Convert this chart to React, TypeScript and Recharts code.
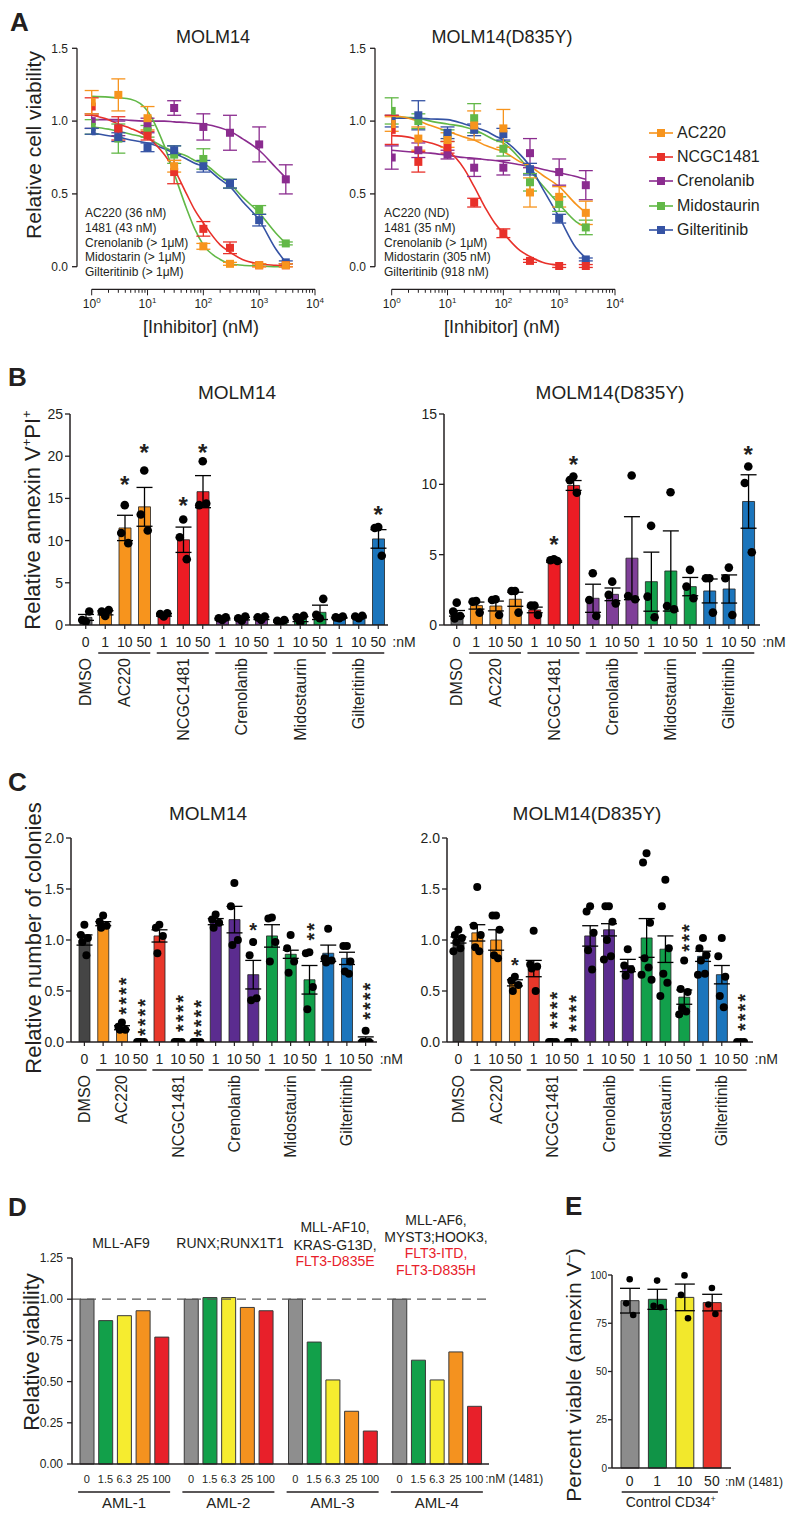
import React from "react";
import { ComposedChart, Line, Scatter, Bar, Cell, XAxis, YAxis, ErrorBar, ReferenceLine } from "recharts";

const ink = "#231f20";
const FONT = '"Liberation Sans", Arial, Helvetica, sans-serif';

// ---------- A: viability vs inhibitor ----------
const doseNM = [1, 3, 10, 30, 100, 300, 1000, 3000];
const fitNM = [1, 2, 3, 5, 10, 20, 30, 50, 70, 100, 200, 300, 500, 1000, 2000, 3000];

// MOLM14 mean / sem
const wtAC220 = [1.13, 1.18, 1.02, 0.69, 0.14, 0.02, 0.01, 0.01];
const wtAC220Sem = [0.08, 0.11, 0.08, 0.04, 0.02, 0.01, 0.01, 0.01];
const wt1481 = [1.1, 0.95, 0.9, 0.65, 0.26, 0.13, 0.01, 0.01];
const wt1481Sem = [0.06, 0.08, 0.03, 0.08, 0.05, 0.04, 0.01, 0.01];
const wtCreno = [1.0, 0.95, 0.97, 1.09, 0.96, 0.92, 0.84, 0.6];
const wtCrenoSem = [0.05, 0.05, 0.05, 0.05, 0.09, 0.12, 0.12, 0.1];
const wtMido = [0.96, 0.88, 0.93, 0.77, 0.74, 0.57, 0.39, 0.16];
const wtMidoSem = [0.05, 0.1, 0.04, 0.06, 0.07, 0.03, 0.03, 0.01];
const wtGilt = [0.93, 0.89, 0.82, 0.8, 0.69, 0.57, 0.32, 0.03];
const wtGiltSem = [0.02, 0.03, 0.03, 0.03, 0.04, 0.03, 0.04, 0.01];

// MOLM14 fitted curves (read at fitNM)
const wtFitAC220 = [1.17, 1.165, 1.16, 1.15, 1.07, 0.83, 0.64, 0.4, 0.26, 0.15, 0.05, 0.02, 0.01, 0.005, 0, 0];
const wtFit1481 = [1.04, 1.01, 0.98, 0.95, 0.89, 0.77, 0.67, 0.5, 0.39, 0.3, 0.15, 0.1, 0.05, 0.02, 0.01, 0.005];
const wtFitCreno = [1.01, 1.01, 1.01, 1.005, 1.0, 1.0, 0.995, 0.99, 0.985, 0.98, 0.955, 0.93, 0.88, 0.8, 0.68, 0.61];
const wtFitMido = [0.96, 0.945, 0.93, 0.91, 0.88, 0.82, 0.79, 0.76, 0.73, 0.71, 0.62, 0.57, 0.48, 0.37, 0.23, 0.16];
const wtFitGilt = [0.92, 0.9, 0.89, 0.87, 0.85, 0.81, 0.78, 0.74, 0.71, 0.69, 0.6, 0.55, 0.45, 0.32, 0.12, 0.03];

// MOLM14(D835Y) mean / sem
const mutAC220 = [0.98, 0.88, 0.87, 0.97, 0.95, 0.51, 0.48, 0.37];
const mutAC220Sem = [0.05, 0.08, 0.05, 0.1, 0.13, 0.1, 0.07, 0.08];
const mut1481 = [0.94, 0.72, 0.82, 0.44, 0.23, 0.04, 0.005, 0.005];
const mut1481Sem = [0.1, 0.07, 0.04, 0.03, 0.03, 0.01, 0.01, 0.01];
const mutCreno = [0.75, 0.8, 0.77, 0.68, 0.68, 0.78, 0.65, 0.56];
const mutCrenoSem = [0.08, 0.05, 0.03, 0.06, 0.05, 0.1, 0.09, 0.1];
const mutMido = [1.07, 1.0, 0.9, 1.02, 0.81, 0.58, 0.43, 0.27];
const mutMidoSem = [0.09, 0.05, 0.04, 0.1, 0.05, 0.06, 0.05, 0.05];
const mutGilt = [1.0, 1.04, 0.92, 0.94, 0.91, 0.67, 0.33, 0.05];
const mutGiltSem = [0.04, 0.1, 0.04, 0.04, 0.04, 0.04, 0.03, 0.01];

const mutFitAC220 = [1.04, 1.02, 1.0, 0.97, 0.93, 0.89, 0.87, 0.83, 0.81, 0.79, 0.72, 0.69, 0.63, 0.55, 0.43, 0.37];
const mutFit1481 = [0.9, 0.89, 0.87, 0.85, 0.8, 0.67, 0.55, 0.39, 0.3, 0.23, 0.11, 0.07, 0.03, 0.01];
const mutFitCreno = [0.8, 0.79, 0.785, 0.78, 0.765, 0.75, 0.745, 0.735, 0.73, 0.72, 0.7, 0.69, 0.67, 0.645, 0.62, 0.6];
const mutFitMido = [1.03, 1.025, 1.02, 1.0, 0.98, 0.96, 0.94, 0.9, 0.87, 0.85, 0.74, 0.66, 0.56, 0.43, 0.31, 0.27];
const mutFitGilt = [1.02, 1.02, 1.02, 1.015, 1.01, 0.98, 0.96, 0.93, 0.9, 0.87, 0.77, 0.69, 0.54, 0.34, 0.13, 0.06];

const legendNames = ["AC220", "NCGC1481", "Crenolanib", "Midostaurin", "Gilteritinib"];
const wtIC50 = ["AC220 (36 nM)", "1481 (43 nM)", "Crenolanib (> 1\u03bcM)", "Midostarin (> 1\u03bcM)", "Gilteritinib (> 1\u03bcM)"];
const mutIC50 = ["AC220 (ND)", "1481 (35 nM)", "Crenolanib (> 1\u03bcM)", "Midostarin (305 nM)", "Gilteritinib (918 nM)"];
const viabTicks = [0, 0.5, 1, 1.5];

// ---------- B / C: treatments ----------
const groups = ["DMSO", "AC220", "NCGC1481", "Crenolanib", "Midostaurin", "Gilteritinib"];
const treatDoses = ["1", "10", "50"];
const treatCats = ["DMSO|0", ...groups.slice(1).flatMap((g) => treatDoses.map((d) => `${g}|${d}`))];

const annWtMean = [0.9, 1.45, 11.5, 14.0, 1.2, 10.1, 15.8, 0.7, 0.75, 0.8, 0.45, 0.7, 1.5, 0.85, 0.95, 10.2];
const annWtSem = [0.35, 0.25, 1.5, 2.3, 0.15, 1.5, 1.9, 0.1, 0.15, 0.15, 0.1, 0.3, 0.85, 0.05, 0.1, 1.1];
const annWtDots = [[0.4, 0.6, 1.6], [1.07, 1.58, 1.78], [14.2, 10.9, 9.7], [18.3, 13.1, 11.2], [1.0, 1.3, 1.4], [12.5, 10.4, 7.8], [19.4, 14.2, 14.4], [0.6, 0.8, 0.9], [0.5, 0.8, 1.0], [0.6, 0.9, 1.0], [0.3, 0.5, 0.6], [0.3, 0.9, 1.1], [0.8, 1.2, 3.1], [0.8, 0.9, 1.0], [0.8, 1.0, 1.1], [11.6, 11.5, 8.2]];
const annWtStars = [
  { c: "AC220|10", v: 17.3, s: "*" },
  { c: "AC220|50", v: 21.1, s: "*" },
  { c: "NCGC1481|10", v: 14.8, s: "*" },
  { c: "NCGC1481|50", v: 21.1, s: "*" },
  { c: "Gilteritinib|50", v: 13.7, s: "*" },
];

const annMutMean = [0.83, 1.38, 1.35, 1.83, 1.07, 4.5, 9.92, 1.9, 2.18, 4.75, 3.08, 3.84, 2.73, 2.42, 2.56, 8.78];
const annMutSem = [0.2, 0.25, 0.35, 0.5, 0.2, 0.05, 0.35, 1.0, 0.45, 2.95, 2.1, 2.85, 0.65, 0.85, 1.0, 1.9];
const annMutDots = [[1.59, 0.95, 0.64, 0.47], [1.71, 1.66, 0.88], [1.83, 1.78, 0.71], [2.42, 2.42, 0.88], [1.38, 1.38, 0.71], [4.67, 4.6, 4.55], [10.56, 10.3, 9.4], [3.68, 1.78, 0.64], [3.08, 2.14, 1.54], [10.63, 2.06, 1.83], [7.05, 2.02, 0.55], [9.44, 1.35, 1.12], [3.92, 2.73, 1.9], [3.32, 3.32, 0.88], [4.08, 3.32, 0.71], [11.27, 10.09, 5.17]];
const annMutStars = [
  { c: "NCGC1481|10", v: 6.1, s: "*" },
  { c: "NCGC1481|50", v: 11.8, s: "*" },
  { c: "Gilteritinib|50", v: 12.5, s: "*" },
];

const colWtMean = [1.0, 1.16, 0.14, 0, 1.04, 0, 0, 1.18, 1.2, 0.66, 1.04, 0.86, 0.61, 0.87, 0.82, 0.03];
const colWtSem = [0.05, 0.02, 0.02, 0, 0.06, 0, 0, 0.03, 0.13, 0.14, 0.11, 0.04, 0.14, 0.08, 0.06, 0.02];
const colWtDots = [[1.15, 1.05, 1.02, 0.98, 0.85], [1.24, 1.18, 1.14, 1.12], [0.19, 0.15, 0.12, 0.12], [0, 0, 0, 0], [1.15, 1.12, 1.04, 0.87], [0, 0, 0, 0], [0, 0, 0, 0], [1.25, 1.2, 1.17, 1.12], [1.56, 1.33, 1.0, 0.95], [0.98, 0.85, 0.43, 0.41], [1.22, 1.21, 0.98, 0.79], [1.05, 0.92, 0.79, 0.68], [0.88, 0.87, 0.54, 0.32], [1.11, 0.82, 0.8, 0.78], [0.94, 0.94, 0.79, 0.69, 0.67], [0.11, 0, 0, 0]];
const colWtStars = [
  { c: "AC220|10", v: 0.46, s: "****" },
  { c: "AC220|50", v: 0.25, s: "****" },
  { c: "NCGC1481|10", v: 0.29, s: "****" },
  { c: "NCGC1481|50", v: 0.24, s: "****" },
  { c: "Crenolanib|50", v: 1.14, s: "*" },
  { c: "Midostaurin|50", v: 1.09, s: "**" },
  { c: "Gilteritinib|50", v: 0.41, s: "****" },
];

const colMutMean = [1.0, 1.07, 1.0, 0.58, 0.72, 0, 0, 1.04, 1.1, 0.75, 1.02, 0.91, 0.44, 0.84, 0.66, 0];
const colMutSem = [0.03, 0.08, 0.1, 0.03, 0.08, 0, 0, 0.1, 0.06, 0.06, 0.19, 0.13, 0.07, 0.05, 0.09, 0];
const colMutDots = [[1.1, 1.05, 1.02, 0.98, 0.92, 0.89], [1.52, 1.14, 1.05, 0.93, 0.89], [1.24, 1.24, 1.1, 0.85, 0.82], [0.64, 0.6, 0.56, 0.5], [1.09, 0.76, 0.74, 0.72, 0.5], [0, 0, 0, 0], [0, 0, 0, 0], [1.33, 1.28, 1.07, 0.9, 0.71], [1.33, 1.33, 1.18, 1.0, 0.84, 0.81], [0.91, 0.75, 0.71, 0.65], [1.85, 1.76, 1.17, 0.82, 0.73, 0.66, 0.61], [1.59, 1.33, 0.92, 0.67, 0.58, 0.45], [0.8, 0.52, 0.49, 0.33, 0.3, 0.27], [1.02, 0.92, 0.85, 0.8, 0.67, 0.66], [1.02, 0.84, 0.64, 0.45, 0.34], [0, 0, 0]];
const colMutStars = [
  { c: "AC220|50", v: 0.8, s: "*" },
  { c: "NCGC1481|10", v: 0.32, s: "****" },
  { c: "NCGC1481|50", v: 0.29, s: "****" },
  { c: "Midostaurin|50", v: 1.03, s: "***" },
  { c: "Gilteritinib|50", v: 0.3, s: "****" },
];

// ---------- D: primary AML ----------
const amlGroups = ["AML-1", "AML-2", "AML-3", "AML-4"];
const amlDoses = ["0", "1.5", "6.3", "25", "100"];
const aml0 = [1.0, 1.0, 1.0, 1.0];
const aml1p5 = [0.87, 1.01, 0.74, 0.63];
const aml6p3 = [0.9, 1.01, 0.51, 0.51];
const aml25 = [0.93, 0.95, 0.32, 0.68];
const aml100 = [0.77, 0.93, 0.2, 0.35];

// ---------- E: CD34+ ----------
const cd34Doses = ["0", "1", "10", "50"];
const cd34Mean = [86.7, 87.4, 88.4, 85.7];
const cd34Sem = [6.4, 5.2, 6.9, 4.3];
const cd34Dots = [[97.8, 85.3, 79.3], [97.1, 84.0, 83.3], [99.8, 89.7, 77.6], [93.3, 84.7, 79.8]];

// ---------- styling ----------
const aColors = ["#f7941d", "#e8312a", "#8b2c8f", "#62b847", "#3553a4"];
const annPalette = ["#6d6e71", "#f7941d", "#ec1c24", "#7f3f98", "#12a04b", "#1b75bc"];
const colPalette = ["#454545", "#f7941d", "#e8372a", "#5b2c8f", "#12a04b", "#1b75bc"];
const amlColors = ["#8e8e8e", "#12a04a", "#f6ec2f", "#f4921f", "#e8202a"];
const cd34Colors = ["#8c8c8c", "#109447", "#f2e82c", "#e9322a"];
const jitter = [0, -3.5, 3.5, -2, 2, -5, 5];

const pts = (v: number[], e: number[]) => doseNM.map((x, i) => ({ x, v: v[i], e: e[i] }));
const fit = (v: number[]) => v.map((y, i) => ({ x: fitNM[i], v: y }));

const logTicks = [1, 10, 100, 1000].flatMap((d) => [1, 2, 3, 4, 5, 6, 7, 8, 9].map((m) => d * m)).concat([10000]);

function Txt({ x, y, size = 14, anchor = "middle", weight = 400, color = ink, rotate = false, children }: any) {
  const tx = anchor === "middle" ? "-50%" : anchor === "end" ? "-100%" : "0";
  return (
    <div
      style={{
        position: "absolute",
        left: x,
        top: y,
        fontSize: size,
        fontWeight: weight,
        color,
        lineHeight: 1,
        whiteSpace: "nowrap",
        transform: rotate ? "translate(-50%,-50%) rotate(-90deg)" : `translate(${tx},-50%)`,
      }}
    >
      {children}
    </div>
  );
}

const LogTick = (p: any) => {
  const { x, y, payload } = p;
  const e = Math.log10(payload.value);
  const major = Math.abs(e - Math.round(e)) < 1e-6;
  return (
    <g>
      <line x1={x} x2={x} y1={y} y2={y + (major ? 6 : 3.5)} stroke={ink} strokeWidth={1} />
      {major && (
        <text x={x} y={y + 19} textAnchor="middle" fontSize={12} fill={ink}>
          10<tspan dy={-5} fontSize={8}>{Math.round(e)}</tspan>
        </text>
      )}
    </g>
  );
};

const square = (color: string) => (p: any) => (
  <rect x={p.cx - 4} y={p.cy - 4} width={8} height={8} fill={color} />
);

function DoseChart({ left, yWidth, series, fits }: any) {
  const W = 330;
  const H = 340;
  // y axis drawn on its own (0..1.5), apart from the offset x axis
  const axisData = viabTicks.map((v, i) => ({ x: i, y: v }));
  return (
    <>
      <div style={{ position: "absolute", left, top: 0 }}>
        <ComposedChart width={W} height={H} data={axisData} margin={{ top: 48.3, right: W - yWidth - 2, left: 0, bottom: H - 266.7 }}>
          <XAxis dataKey="x" hide />
          <YAxis
            type="number"
            domain={[0, 1.5]}
            ticks={viabTicks}
            tickFormatter={(v: number) => v.toFixed(1)}
            width={yWidth}
            axisLine={{ stroke: ink, strokeWidth: 1.3 }}
            tickLine={{ stroke: ink, strokeWidth: 1.3 }}
            tickSize={5}
            tickMargin={4}
            tick={{ fontSize: 12, fill: ink }}
          />
          <Line dataKey="y" stroke="none" dot={false} isAnimationActive={false} />
        </ComposedChart>
      </div>
      <div style={{ position: "absolute", left, top: 0 }}>
        <ComposedChart width={W} height={H} margin={{ top: 48.3, right: 15, left: 91.7, bottom: 0 }}>
          <XAxis
            dataKey="x"
            type="number"
            scale="log"
            domain={[1, 10000]}
            ticks={logTicks}
            interval={0}
            allowDataOverflow
            height={H - 289.3}
            tickSize={0}
            tickMargin={0}
            tick={<LogTick />}
            axisLine={{ stroke: ink, strokeWidth: 1.3 }}
          />
          <YAxis hide type="number" domain={[-0.155, 1.5]} allowDataOverflow />
          {fits.map((f: any, i: number) => (
            <Line key={`f${i}`} data={f.data} dataKey="v" type="monotone" stroke={f.color} strokeWidth={1.6} dot={false} isAnimationActive={false} />
          ))}
          {series.map((s: any, i: number) => (
            <Scatter key={`s${i}`} data={s.data} dataKey="v" fill={s.color} shape={square(s.color)} isAnimationActive={false}>
              <ErrorBar dataKey="e" direction="y" width={7} stroke={s.color} strokeWidth={1.3} />
            </Scatter>
          ))}
        </ComposedChart>
      </div>
    </>
  );
}

const dotShape = (r: number) => (p: any) => (
  <circle cx={p.cx + jitter[p.payload.k % jitter.length]} cy={p.cy} r={r} fill="#000" />
);

const starShape = (fs: number, ls: number) => (p: any) => {
  const { cx, cy, payload } = p;
  const s = payload.s;
  if (s.length === 1) {
    return (
      <text x={cx} y={cy} dy={fs * 0.57} textAnchor="middle" fontSize={fs} fontWeight={700} fill={ink}>
        *
      </text>
    );
  }
  return (
    <text x={cx} y={cy} dy={fs * 0.57} textAnchor="middle" fontSize={fs} fontWeight={700} letterSpacing={ls} fill={ink} transform={`rotate(-90 ${cx} ${cy})`}>
      {s}
    </text>
  );
};

const TreatTick = (p: any) => {
  const { x, y, payload, band } = p;
  const [grp, dose] = String(payload.value).split("|");
  const isLast = payload.value === treatCats[treatCats.length - 1];
  const nameY = y + 33;
  return (
    <g fill={ink}>
      <line x1={x} y1={y} x2={x} y2={y + 4} stroke={ink} strokeWidth={1.2} />
      <text x={x} y={y + 22} textAnchor="middle" fontSize={14}>
        {dose}
      </text>
      {isLast && (
        <text x={x + 14} y={y + 22} fontSize={14}>
          :nM
        </text>
      )}
      {(grp === "DMSO" || dose === "10") && (
        <text x={x} y={nameY} dy="0.35em" textAnchor="end" fontSize={16} transform={`rotate(-90 ${x} ${nameY})`}>
          {grp}
        </text>
      )}
      {dose === "10" && <line x1={x - band - 7} x2={x + band + 6} y1={y + 28} y2={y + 28} stroke={ink} strokeWidth={1.5} />}
    </g>
  );
};

function TreatPanel(props: any) {
  const { left, top, width, height, yWidth, mTop, mRight, padL, padR, domain, ticks, fmt, means, sems, dots, stars, palette, barSize, dotR, starFs, starLs, plotBottom } = props;
  const band = (width - mRight - yWidth - padL - padR) / treatCats.length;
  const data = treatCats.map((c, i) => ({ c, m: means[i], e: sems[i] > 0 ? sems[i] : undefined }));
  const dotData = dots.flatMap((arr: number[], i: number) => arr.map((v, k) => ({ c: treatCats[i], v, k })));
  const groupIdx = (c: string) => groups.indexOf(c.split("|")[0]);
  return (
    <div style={{ position: "absolute", left, top }}>
      <ComposedChart width={width} height={height} data={data} margin={{ top: mTop, right: mRight, left: 0, bottom: 0 }}>
        <XAxis
          dataKey="c"
          type="category"
          allowDuplicatedCategory={false}
          height={height - plotBottom}
          padding={{ left: padL, right: padR }}
          interval={0}
          tickSize={0}
          tickMargin={0}
          tick={<TreatTick band={band} />}
          axisLine={{ stroke: ink, strokeWidth: 1.5 }}
        />
        <YAxis
          type="number"
          domain={domain}
          ticks={ticks}
          tickFormatter={fmt}
          width={yWidth}
          allowDataOverflow
          axisLine={{ stroke: ink, strokeWidth: 1.5 }}
          tickLine={{ stroke: ink, strokeWidth: 1.3 }}
          tickSize={5}
          tickMargin={2}
          tick={{ fontSize: 14, fill: ink }}
        />
        <Bar dataKey="m" barSize={barSize} stroke="#222" strokeWidth={0.8} isAnimationActive={false}>
          {data.map((d: any) => (
            <Cell key={d.c} fill={palette[groupIdx(d.c)]} />
          ))}
          <ErrorBar dataKey="e" width={8} stroke="#000" strokeWidth={1.3} />
        </Bar>
        <Scatter data={dotData} dataKey="v" shape={dotShape(dotR)} isAnimationActive={false} />
        <Scatter data={stars} dataKey="v" shape={starShape(starFs, starLs)} isAnimationActive={false} />
      </ComposedChart>
    </div>
  );
}

const amlPitch = 18.7;
const AmlTick = (p: any) => {
  const { x, y, payload } = p;
  const isLast = payload.value === amlGroups[amlGroups.length - 1];
  return (
    <g fill={ink}>
      {amlDoses.map((d, j) => (
        <text key={d} x={x + (j - 2) * amlPitch} y={y + 19} textAnchor="middle" fontSize={11}>
          {d}
        </text>
      ))}
      {isLast && (
        <text x={x + 2 * amlPitch + 11} y={y + 19} fontSize={12}>
          :nM (1481)
        </text>
      )}
      <line x1={x - 46} x2={x + 46} y1={y + 28} y2={y + 28} stroke={ink} strokeWidth={1.5} />
      <text x={x} y={y + 44} textAnchor="middle" fontSize={15}>
        {payload.value}
      </text>
    </g>
  );
};

function AmlPanel() {
  const data = amlGroups.map((g, i) => ({ g, d0: aml0[i], d1: aml1p5[i], d2: aml6p3[i], d3: aml25[i], d4: aml100[i] }));
  const keys = ["d0", "d1", "d2", "d3", "d4"];
  return (
    <div style={{ position: "absolute", left: 0, top: 1200 }}>
      <ComposedChart width={560} height={317} data={data} barGap={4.7} margin={{ top: 58, right: 71, left: 0, bottom: 0 }}>
        <XAxis dataKey="g" type="category" height={53} interval={0} tickSize={0} tickMargin={0} tick={<AmlTick />} axisLine={{ stroke: ink, strokeWidth: 1.5 }} />
        <YAxis
          type="number"
          domain={[0, 1.25]}
          ticks={[0, 0.25, 0.5, 0.75, 1, 1.25]}
          tickFormatter={(v: number) => v.toFixed(2)}
          width={72}
          axisLine={{ stroke: ink, strokeWidth: 1.5 }}
          tickLine={{ stroke: ink, strokeWidth: 1.3 }}
          tickSize={5}
          tickMargin={4}
          tick={{ fontSize: 12, fill: ink }}
        />
        <ReferenceLine y={1} stroke="#555" strokeWidth={1.3} strokeDasharray="9 6" />
        {keys.map((k, j) => (
          <Bar key={k} dataKey={k} barSize={14} fill={amlColors[j]} stroke="#3a3a3a" strokeWidth={1} isAnimationActive={false} />
        ))}
      </ComposedChart>
    </div>
  );
}

const CtrlTick = (p: any) => {
  const { x, y, payload, band } = p;
  const i = cd34Doses.indexOf(payload.value);
  return (
    <g fill={ink}>
      <text x={x} y={y + 18} textAnchor="middle" fontSize={14}>
        {payload.value}
      </text>
      {i === cd34Doses.length - 1 && (
        <text x={x + 13} y={y + 18} fontSize={12}>
          :nM (1481)
        </text>
      )}
      {i === 0 && (
        <>
          <line x1={x - 8} x2={x + 3 * band + 6} y1={y + 24} y2={y + 24} stroke={ink} strokeWidth={1.5} />
          <text x={x + 1.5 * band} y={y + 39} textAnchor="middle" fontSize={14}>
            Control CD34<tspan dy={-5} fontSize={9}>+</tspan>
          </text>
        </>
      )}
    </g>
  );
};

function Cd34Panel() {
  const data = cd34Doses.map((c, i) => ({ c, m: cd34Mean[i], e: cd34Sem[i] }));
  const dotData = cd34Dots.flatMap((arr, i) => arr.map((v, k) => ({ c: cd34Doses[i], v, k })));
  const band = (233 - 62 - 52 - 4 - 5.4) / cd34Doses.length;
  return (
    <div style={{ position: "absolute", left: 560, top: 1230 }}>
      <ComposedChart width={233} height={287} data={data} margin={{ top: 45, right: 62, left: 0, bottom: 0 }}>
        <XAxis
          dataKey="c"
          type="category"
          allowDuplicatedCategory={false}
          height={49}
          padding={{ left: 4, right: 5.4 }}
          interval={0}
          tickSize={0}
          tickMargin={0}
          tick={<CtrlTick band={band} />}
          axisLine={{ stroke: ink, strokeWidth: 1.5 }}
        />
        <YAxis
          type="number"
          domain={[0, 100]}
          ticks={[0, 25, 50, 75, 100]}
          width={52}
          axisLine={{ stroke: ink, strokeWidth: 1.5 }}
          tickLine={{ stroke: ink, strokeWidth: 1.3 }}
          tickSize={4}
          tickMargin={1}
          tick={{ fontSize: 10, fill: ink }}
        />
        <Bar dataKey="m" barSize={18} stroke="#333" strokeWidth={1} isAnimationActive={false}>
          {data.map((d, i) => (
            <Cell key={d.c} fill={cd34Colors[i]} />
          ))}
          <ErrorBar dataKey="e" width={10} stroke="#000" strokeWidth={1.3} />
        </Bar>
        <Scatter data={dotData} dataKey="v" shape={dotShape(3.3)} isAnimationActive={false} />
      </ComposedChart>
    </div>
  );
}

export default function App() {
  const wtSeries = [
    { data: pts(wtCreno, wtCrenoSem), color: aColors[2] },
    { data: pts(wtMido, wtMidoSem), color: aColors[3] },
    { data: pts(wtGilt, wtGiltSem), color: aColors[4] },
    { data: pts(wt1481, wt1481Sem), color: aColors[1] },
    { data: pts(wtAC220, wtAC220Sem), color: aColors[0] },
  ];
  const wtFits = [
    { data: fit(wtFitCreno), color: aColors[2] },
    { data: fit(wtFitMido), color: aColors[3] },
    { data: fit(wtFitGilt), color: aColors[4] },
    { data: fit(wtFit1481), color: aColors[1] },
    { data: fit(wtFitAC220), color: aColors[3] },
  ];
  const mutSeries = [
    { data: pts(mutCreno, mutCrenoSem), color: aColors[2] },
    { data: pts(mutMido, mutMidoSem), color: aColors[3] },
    { data: pts(mutGilt, mutGiltSem), color: aColors[4] },
    { data: pts(mut1481, mut1481Sem), color: aColors[1] },
    { data: pts(mutAC220, mutAC220Sem), color: aColors[0] },
  ];
  const mutFits = [
    { data: fit(mutFitCreno), color: aColors[2] },
    { data: fit(mutFitMido), color: aColors[3] },
    { data: fit(mutFitGilt), color: aColors[4] },
    { data: fit(mutFit1481), color: aColors[1] },
    { data: fit(mutFitAC220), color: aColors[0] },
  ];

  const annCommon = { top: 380, height: 380, mTop: 34, plotBottom: 625 - 380, barSize: 12, dotR: 4.3, starFs: 24, starLs: 0, palette: annPalette };
  const colCommon = { top: 800, height: 380, mTop: 38, plotBottom: 1042 - 800, barSize: 11, dotR: 4, starFs: 20, starLs: 2, palette: colPalette, domain: [0, 2], ticks: [0, 0.5, 1, 1.5, 2], fmt: (v: number) => v.toFixed(1) };

  return (
    <div style={{ position: "absolute", left: 0, top: 0, width: 793, height: 1517, background: "#fff", fontFamily: FONT, color: ink, overflow: "hidden" }}>
      {/* A */}
      <Txt x={10} y={22} size={26} weight={700} anchor="start">A</Txt>
      <Txt x={213} y={37} size={18}>MOLM14</Txt>
      <Txt x={502} y={37} size={18}>MOLM14(D835Y)</Txt>
      <Txt x={33} y={145} size={21} rotate>Relative cell viability</Txt>
      <DoseChart left={0} yWidth={77} series={wtSeries} fits={wtFits} />
      <DoseChart left={300} yWidth={75} series={mutSeries} fits={mutFits} />
      {wtIC50.map((t, i) => (
        <Txt key={t} x={85} y={213 + i * 14.8} size={12} anchor="start">{t}</Txt>
      ))}
      {mutIC50.map((t, i) => (
        <Txt key={t} x={384} y={213 + i * 14.8} size={12} anchor="start">{t}</Txt>
      ))}
      <Txt x={201} y={327} size={18}>[Inhibitor] (nM)</Txt>
      <Txt x={502} y={327} size={18}>[Inhibitor] (nM)</Txt>
      {legendNames.map((n, i) => (
        <div key={n} style={{ position: "absolute", left: 648, top: 133 + i * 24.2 - 9, height: 18, display: "flex", alignItems: "center", fontSize: 16, lineHeight: 1 }}>
          <svg width={26} height={18} style={{ display: "block" }}>
            <line x1={1} x2={25} y1={9} y2={9} stroke={aColors[i]} strokeWidth={1.6} />
            <rect x={9} y={5} width={8} height={8} fill={aColors[i]} />
          </svg>
          <span style={{ marginLeft: 3 }}>{n}</span>
        </div>
      ))}

      {/* B */}
      <Txt x={8} y={377} size={26} weight={700} anchor="start">B</Txt>
      <Txt x={237} y={392} size={19}>MOLM14</Txt>
      <Txt x={610} y={392} size={19}>MOLM14(D835Y)</Txt>
      <Txt x={32} y={520} size={22} rotate>
        Relative annexin V<sup style={{ fontSize: 13 }}>+</sup>PI<sup style={{ fontSize: 13 }}>+</sup>
      </Txt>
      <TreatPanel {...annCommon} left={0} width={420} yWidth={70} mRight={32} padL={6} padR={0} domain={[0, 25]} ticks={[0, 5, 10, 15, 20, 25]} means={annWtMean} sems={annWtSem} dots={annWtDots} stars={annWtStars} />
      <TreatPanel {...annCommon} left={380} width={413} yWidth={64} mRight={33} padL={3} padR={2} domain={[0, 15]} ticks={[0, 5, 10, 15]} means={annMutMean} sems={annMutSem} dots={annMutDots} stars={annMutStars} />

      {/* C */}
      <Txt x={8} y={782} size={26} weight={700} anchor="start">C</Txt>
      <Txt x={208} y={813} size={19}>MOLM14</Txt>
      <Txt x={587} y={813} size={19}>MOLM14(D835Y)</Txt>
      <Txt x={34} y={938} size={22} rotate>Relative number of colonies</Txt>
      <TreatPanel {...colCommon} left={0} width={420} yWidth={71} mRight={43} padL={4} padR={2} means={colWtMean} sems={colWtSem} dots={colWtDots} stars={colWtStars} />
      <TreatPanel {...colCommon} left={380} width={413} yWidth={67} mRight={40} padL={2} padR={3} means={colMutMean} sems={colMutSem} dots={colMutDots} stars={colMutStars} />

      {/* D */}
      <Txt x={8} y={1207} size={26} weight={700} anchor="start">D</Txt>
      <Txt x={121} y={1243} size={14}>MLL-AF9</Txt>
      <Txt x={230} y={1243} size={14}>RUNX;RUNX1T1</Txt>
      <Txt x={335} y={1227} size={14}>MLL-AF10,</Txt>
      <Txt x={335} y={1245} size={14}>KRAS-G13D,</Txt>
      <Txt x={335} y={1261} size={14} color="#e8202a">FLT3-D835E</Txt>
      <Txt x={436} y={1220} size={14}>MLL-AF6,</Txt>
      <Txt x={436} y={1237} size={14}>MYST3;HOOK3,</Txt>
      <Txt x={436} y={1253} size={14} color="#e8202a">FLT3-ITD,</Txt>
      <Txt x={436} y={1270} size={14} color="#e8202a">FLT3-D835H</Txt>
      <Txt x={32} y={1352} size={22} rotate>Relative viability</Txt>
      <AmlPanel />

      {/* E */}
      <Txt x={565} y={1206} size={26} weight={700} anchor="start">E</Txt>
      <Txt x={573} y={1375} size={21} rotate>
        Percent viable (annexin V<sup style={{ fontSize: 13 }}>{"\u2013"}</sup>)
      </Txt>
      <Cd34Panel />
    </div>
  );
}
